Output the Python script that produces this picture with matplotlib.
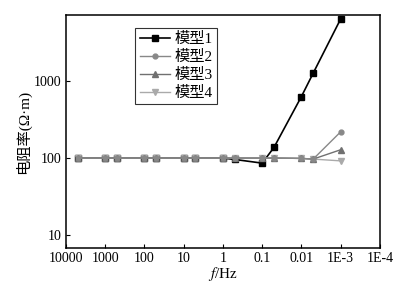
import numpy as np
import matplotlib.pyplot as plt

plt.rcParams['font.family'] = ['Liberation Serif', 'Noto Sans CJK SC']
plt.rcParams['mathtext.fontset'] = 'stix'

# data
freq = [5000, 1000, 500, 100, 50, 10, 5, 1, 0.5, 0.1, 0.05, 0.01, 0.005, 0.001]
model1 = [100, 100, 100, 100, 100, 100, 100, 100, 96, 86, 137, 622, 1250, 6250]
model2 = [100, 100, 100, 100, 100, 100, 100, 100, 100, 100, 100, 99, 97, 218]
model3 = [100, 100, 100, 100, 100, 100, 100, 100, 100, 100, 100, 99, 97, 128]
model4 = [100, 100, 100, 100, 100, 100, 100, 100, 100, 100, 100, 99, 97, 92]
labels = ['模型1', '模型2', '模型3', '模型4']

xticks = [1e4, 1e3, 1e2, 1e1, 1, 0.1, 0.01, 1e-3, 1e-4]
xticklabels = ['10000', '1000', '100', '10', '1', '0.1', '0.01', '1E-3', '1E-4']

fig = plt.figure(figsize=(4.12, 2.88), dpi=100)
ax = fig.add_axes([0.160, 0.139, 0.762, 0.809])

ax.plot(freq, model4, color='#aaaaaa', marker='v', ms=4, lw=1, label=labels[3], zorder=2)
ax.plot(freq, model3, color='#707070', marker='^', ms=4, lw=1, label=labels[2], zorder=3)
ax.plot(freq, model2, color='#888888', marker='o', ms=3.5, lw=1, label=labels[1], zorder=4)
ax.plot(freq, model1, color='black', marker='s', ms=4, lw=1.2, label=labels[0], zorder=1)

ax.set_xscale('log')
ax.set_yscale('log')
ax.set_xlim(1e4, 1e-4)
ax.set_ylim(6.9, 7050)
ax.set_xticks(xticks)
ax.set_xticklabels(xticklabels)
ax.set_yticks([10, 100, 1000])
ax.set_yticklabels(['10', '100', '1000'])
ax.minorticks_off()
ax.tick_params(direction='in', labelsize=10, length=3, pad=3)
for s in ax.spines.values():
    s.set_linewidth(1.1)

ax.set_xlabel(r'$\mathit{f}$/Hz', fontsize=11, labelpad=0)
ax.set_ylabel('电阻率(Ω·m)', fontsize=11, labelpad=2)

h, l = ax.get_legend_handles_labels()
order = [3, 2, 1, 0]
leg = ax.legend([h[i] for i in order], [l[i] for i in order], loc='upper left',
                bbox_to_anchor=(0.22, 0.945), fontsize=11, frameon=True, fancybox=False,
                edgecolor='black', handlelength=2, borderpad=0.3, labelspacing=0.25,
                handletextpad=0.3, borderaxespad=0)
leg.get_frame().set_linewidth(0.8)

fig.savefig('out.png', dpi=100)
